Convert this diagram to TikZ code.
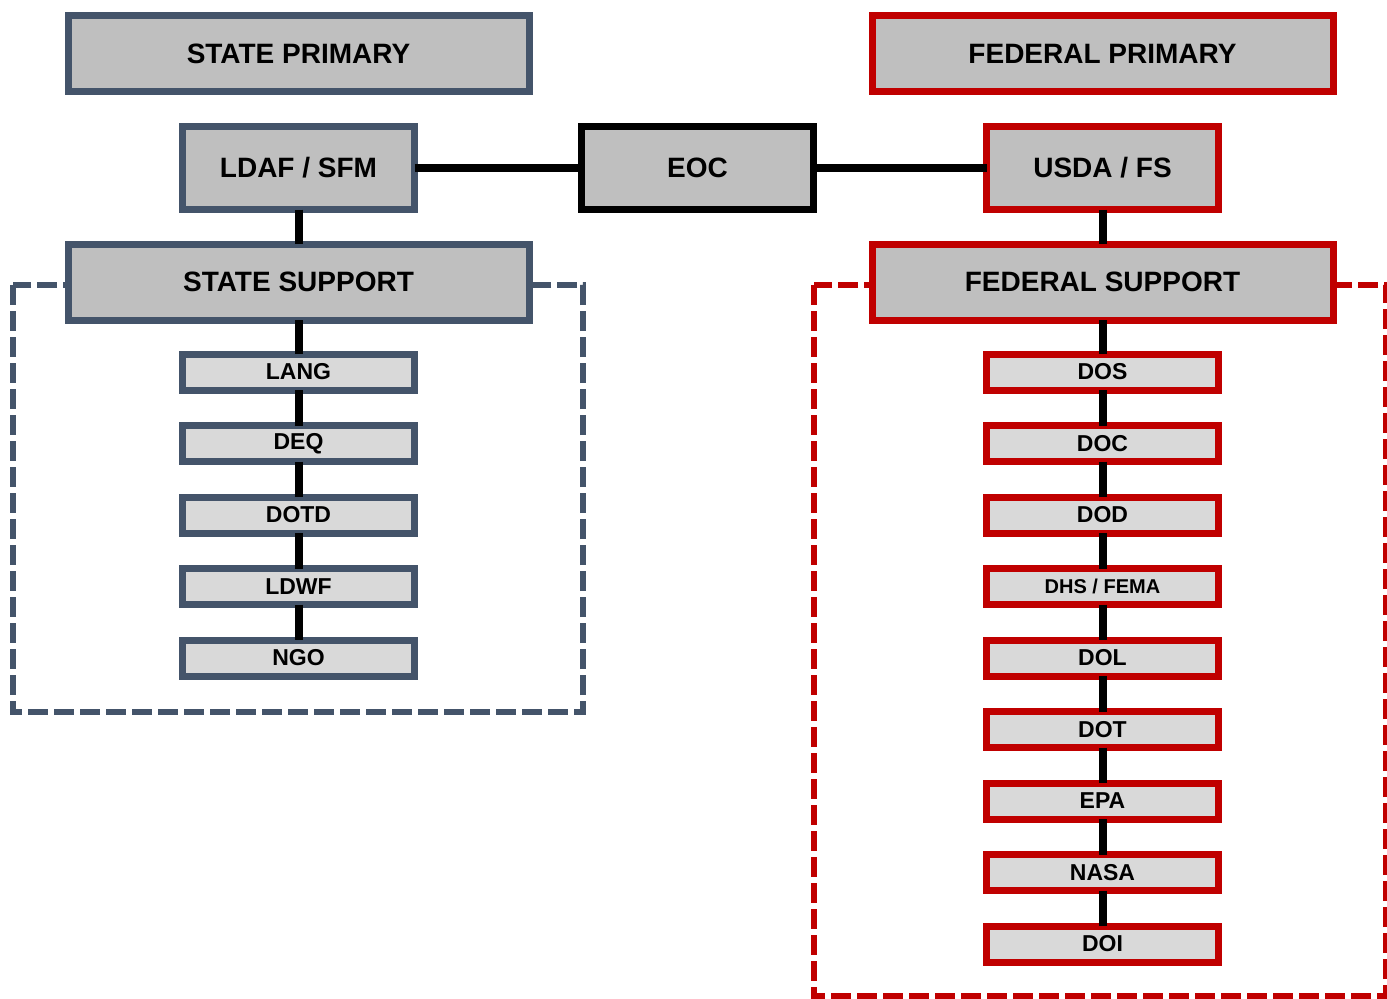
\documentclass[tikz,border=0pt]{standalone}
\usepackage{fontspec}
\setmainfont{Liberation Sans}
\usepackage{tikz}
\usetikzlibrary{calc}
\definecolor{slate}{HTML}{44546A}
\definecolor{fedred}{HTML}{C00000}
\definecolor{boxgray}{HTML}{BFBFBF}
\definecolor{lightgray}{HTML}{D9D9D9}

\begin{document}
\begin{tikzpicture}[x=0.5pt,y=-0.5pt,
  bigbox/.style={draw,fill=boxgray,text=black,line width=3.5pt,inner sep=0pt,
    minimum width=230.5pt,minimum height=38pt,font=\bfseries\fontsize{14}{16}\selectfont},
  midbox/.style={draw,fill=boxgray,text=black,line width=3.5pt,inner sep=0pt,
    minimum width=116pt,minimum height=41.5pt,font=\bfseries\fontsize{14}{16}\selectfont},
  smallbox/.style={draw,fill=lightgray,text=black,line width=3.5pt,inner sep=0pt,
    minimum width=116pt,minimum height=18pt,font=\bfseries\fontsize{11.5}{13}\selectfont},
  link/.style={line width=4pt,shorten <=-1.75pt,shorten >=-1.75pt},
  frame/.style={line width=2.75pt,dash pattern=on 10pt off 3pt}]
\useasboundingbox (0,0) rectangle (1387,998);

% dashed frames round the support groups
\draw[frame,slate] (13,285) rectangle (583,712);
\draw[frame,fedred] (814,285) rectangle (1386,996);

% state side
\node[bigbox,draw=slate] (stateprim) at (298.5,53.5) {STATE PRIMARY};
\node[midbox,draw=slate] (ldaf) at (298.5,168) {LDAF / SFM};
\node[bigbox,draw=slate] (statesup) at (298.5,282) {STATE SUPPORT};

% centre
\node[midbox,draw=black] (eoc) at (697.5,168) {EOC};

% federal side
\node[bigbox,draw=fedred] (fedprim) at (1102.5,53.5) {FEDERAL PRIMARY};
\node[midbox,draw=fedred] (usda) at (1102.5,168) {USDA / FS};
\node[bigbox,draw=fedred] (fedsup) at (1102.5,282) {FEDERAL SUPPORT};

% state agencies
\foreach \name/\lbl [count=\i from 0] in {lang/LANG,deq/DEQ,dotd/DOTD,ldwf/LDWF,ngo/NGO}
  \node[smallbox,draw=slate] (\name) at (298.5,372+71.5*\i) {\lbl};

% federal agencies
\foreach \name/\lbl [count=\i from 0] in {dos/DOS,doc/DOC,dod/DOD,dhs/{\fontsize{10}{12}\selectfont DHS / FEMA},dol/DOL,dot/DOT,epa/EPA,nasa/NASA,doi/DOI}
  \node[smallbox,draw=fedred] (\name) at (1102.5,372+71.5*\i) {\lbl};

% links
\draw[link] (ldaf.east) -- (eoc.west);
\draw[link] (eoc.east) -- (usda.west);
\draw[link] (ldaf.south) -- (statesup.north);
\draw[link] (usda.south) -- (fedsup.north);
\draw[link] (statesup.south) -- (lang.north);
\draw[link] (lang.south) -- (deq.north);
\draw[link] (deq.south) -- (dotd.north);
\draw[link] (dotd.south) -- (ldwf.north);
\draw[link] (ldwf.south) -- (ngo.north);
\draw[link] (fedsup.south) -- (dos.north);
\draw[link] (dos.south) -- (doc.north);
\draw[link] (doc.south) -- (dod.north);
\draw[link] (dod.south) -- (dhs.north);
\draw[link] (dhs.south) -- (dol.north);
\draw[link] (dol.south) -- (dot.north);
\draw[link] (dot.south) -- (epa.north);
\draw[link] (epa.south) -- (nasa.north);
\draw[link] (nasa.south) -- (doi.north);
\end{tikzpicture}
\end{document}
